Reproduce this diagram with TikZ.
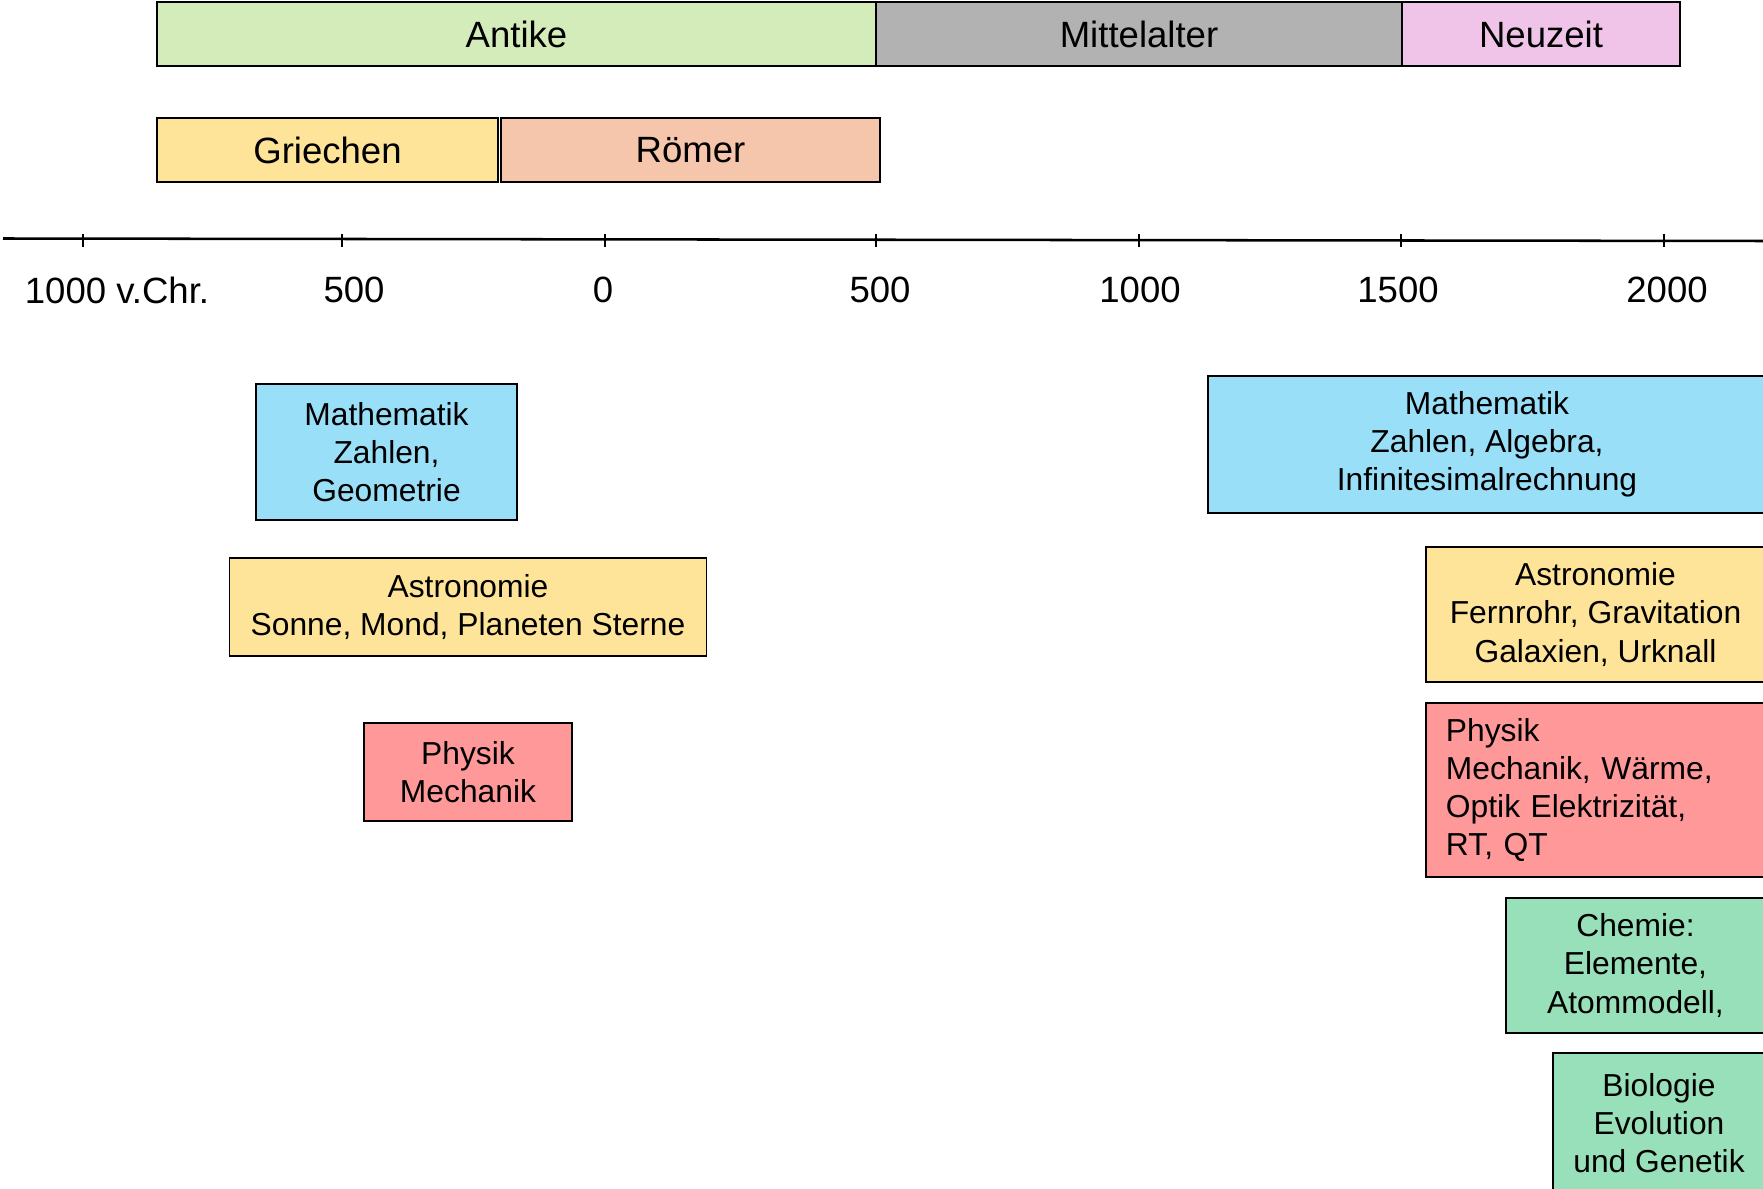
\documentclass[tikz,border=0pt]{standalone}
\usepackage{fontspec}
\setmainfont{Liberation Sans}
\usepackage{tikz}
\definecolor{antikegruen}{RGB}{212,236,186}
\definecolor{mittelgrau}{RGB}{178,178,178}
\definecolor{neuzeitrosa}{RGB}{240,196,232}
\definecolor{gelb}{RGB}{254,228,152}
\definecolor{pfirsich}{RGB}{246,198,172}
\definecolor{hellblau}{RGB}{153,223,248}
\definecolor{rot}{RGB}{255,153,153}
\definecolor{mint}{RGB}{152,224,186}

\begin{document}
\begin{tikzpicture}[x=0.025cm,y=-0.025cm]
	\tikzstyle{epoche}=[draw=black,line width=1pt,minimum height=1.6cm,inner sep=0pt,font=\fontsize{26}{31}\selectfont]
	\tikzstyle{fach}=[draw=black,line width=1pt,inner sep=0pt,align=center,font=\fontsize{22.6}{27.2}\selectfont]
	\tikzstyle{jahr}=[font=\fontsize{26}{31}\selectfont]
	\useasboundingbox (0,0) rectangle (1763,1189);
	% Epochen
	\node[epoche,fill=antikegruen,minimum width=17.975cm] (antike) at (516.5,34) {Antike};
	\node[epoche,fill=mittelgrau,minimum width=13.15cm] (mittelalter) at (1139,34) {Mittelalter};
	\node[epoche,fill=neuzeitrosa,minimum width=6.95cm] (neuzeit) at (1541,34) {Neuzeit};
	\node[epoche,fill=gelb,minimum width=8.525cm] (griechen) at (327.5,150) {Griechen};
	\node[epoche,fill=pfirsich,minimum width=9.475cm] (roemer) at (690.5,150) {Römer};
	% Zeitachse
	\coordinate (achsel) at (3,238.5);
	\coordinate (achser) at (1766,241);
	\draw[line width=1.8pt] (achsel) -- (achser);
	\foreach \x in {83,342,605,876,1139,1401,1664}
		\draw[line width=1pt] (\x,234) -- (\x,247);
	\node[jahr] (j1) at (117,290) {1000 v.Chr.};
	\node[jahr] (j2) at (354,290) {500};
	\node[jahr] (j3) at (603,290) {0};
	\node[jahr] (j4) at (880,290) {500};
	\node[jahr] (j5) at (1140,290) {1000};
	\node[jahr] (j6) at (1398,290) {1500};
	\node[jahr] (j7) at (1667,290) {2000};
	% Antike Faecher
	\node[fach,fill=hellblau,minimum width=6.525cm,minimum height=3.4cm] (mathl) at (386.5,452) {Mathematik\\Zahlen,\\Geometrie};
	\node[fach,fill=gelb,minimum width=11.925cm,minimum height=2.45cm] (astrol) at (468,607) {Astronomie\\Sonne, Mond, Planeten Sterne};
	\node[fach,fill=rot,minimum width=5.2cm,minimum height=2.45cm] (physl) at (468,772) {Physik\\Mechanik};
	% Neuzeit Faecher
	\node[fach,fill=hellblau,minimum width=13.95cm,minimum height=3.425cm] (mathr) at (1487,444.5) {Mathematik\\Zahlen, Algebra,\\Infinitesimalrechnung};
	\node[fach,fill=gelb,minimum width=8.475cm,minimum height=3.375cm] (astror) at (1595.5,614.5) {Astronomie\\Fernrohr, Gravitation\\Galaxien, Urknall};
	\node[fach,fill=rot,align=left,text width=7.475cm,inner xsep=0.5cm,minimum height=4.35cm] (physr) at (1595.5,790) {Physik\\Mechanik, Wärme,\\Optik Elektrizität,\\RT, QT};
	\node[fach,fill=mint,minimum width=6.475cm,minimum height=3.375cm] (chemie) at (1635.5,965.5) {Chemie:\\Elemente,\\Atommodell,};
	\node[fach,fill=mint,minimum width=5.3cm,minimum height=3.5cm] (bio) at (1659,1123) {Biologie\\Evolution\\und Genetik};
\end{tikzpicture}
\end{document}
